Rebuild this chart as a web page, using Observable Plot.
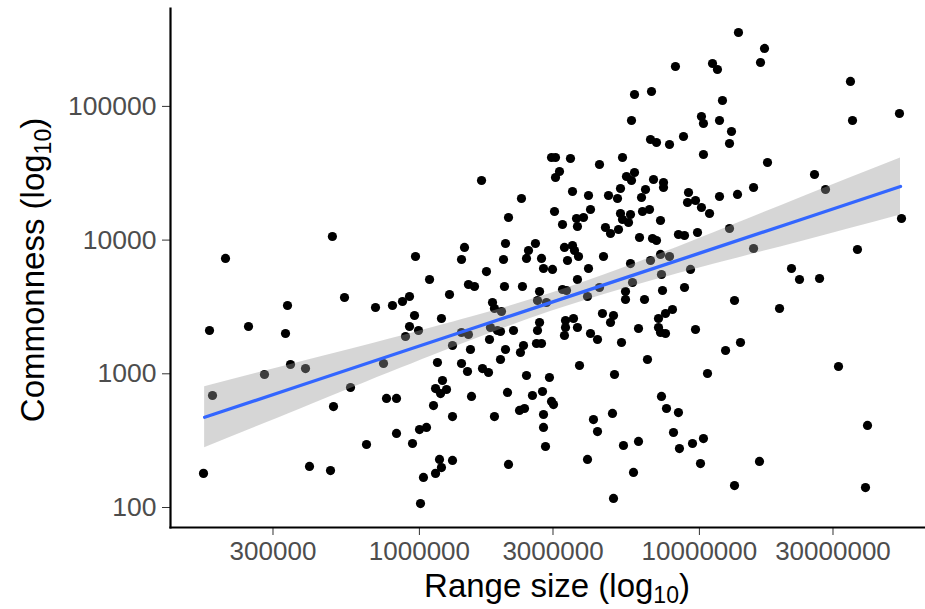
<!DOCTYPE html>
<html><head><meta charset="utf-8">
<script src="https://cdn.jsdelivr.net/npm/d3@7"></script>
<script src="https://cdn.jsdelivr.net/npm/@observablehq/plot@0.6"></script>
<style>body{margin:0;background:#fff;}</style>
</head><body><div id="chart"></div>
<script>
// Range size (x) and commonness (y) of each species
const rangeSize = [
489000,203000,1667000,2315000,2081000,1449000,968500,1414000,2030000,2597000,
2453000,1997000,2413000,2730000,1736000,2775000,8212000,11140000,11600000,5866000,
6745000,12090000,10170000,10340000,11800000,5722000,13020000,12810000,6690000,7028000,
7820000,8774000,10340000,2964000,3063000,3464000,5313000,4397000,3165000,3063000,
5490000,5866000,5722000,6858000,7444000,7444000,6420000,5226000,3522000,4017000,
4735000,5099000,6212000,9143000,11800000,9068000,9685000,10170000,10870000,3038000,
4084000,3640000,3856000,3669000,3244000,5226000,5675000,5313000,5582000,6264000,
6634000,7262000,4619000,4815000,5141000,6112000,6801000,7028000,8418000,8848000,
9845000,12810000,3297000,3522000,3580000,3700000,3380000,4545000,5675000,6690000,
7262000,7820000,9295000,4017000,2988000,13790000,17080000,16530000,34640000,35220000,
51830000,17510000,25770000,28210000,15610000,13680000,52700000,15610000,36690000,21330000,
540100,338000,178000,245300,332500,279700,346400,392000,182400,567400,
493400,405000,481500,169400,1087000,1497000,1573000,2013000,2334000,2686000,
1281000,697000,801400,870100,921800,960500,1824000,1854000,1964000,2641000,
1199000,921800,992600,891900,1414000,1497000,1794000,1900000,1948000,2168000,
2686000,2641000,1780000,1313000,1522000,2030000,2354000,2296000,2619000,2730000,
744400,1160000,1414000,1948000,1485000,1680000,1765000,2413000,1209000,1142000,
1250000,1190000,2064000,2752000,2534000,1535000,763000,828400,1123000,2278000,
2373000,2775000,1854000,1313000,2775000,1001000,1060000,828400,647400,944900,
2821000,1180000,1313000,1199000,1142000,2081000,1034000,1009000,3669000,7321000,
5769000,4397000,3244000,3353000,2844000,3985000,5446000,5446000,7383000,8848000,
6367000,4506000,4934000,4815000,3325000,3551000,3325000,3297000,3669000,4084000,
4326000,5270000,6061000,7143000,7567000,8014000,7143000,7262000,7567000,9685000,
12400000,6525000,3731000,4975000,2914000,10690000,2964000,3013000,7321000,7629000,
8418000,4893000,4185000,4326000,8081000,10340000,9449000,8486000,5356000,6061000,
3985000,5816000,10090000,4934000,13350000,22780000,26860000,13350000,19330000,14020000,
31390000,39850000,16390000,39190000
];
const commonness = [
10640,7290,27900,20470,14760,8810,7540,7160,9430,9430,
8360,7160,7290,7290,5820,6130,198800,209400,188800,122700,
129200,110700,84050,74490,78440,78440,64920,52770,56550,53700,
51880,59550,43680,41480,41480,40770,41480,36770,32590,29380,
29900,32030,27900,28400,26970,24740,23910,24320,23100,21560,
21560,20470,20830,22700,21190,19110,19780,17530,15810,16360,
16930,14510,14760,12640,13080,15810,15540,14260,13540,16360,
16930,14020,12420,11200,12000,10460,10280,9930,11010,10820,
11400,12210,8810,9110,8360,7540,7040,7540,6680,7040,
7810,7540,6030,6130,6030,357000,271200,213000,153600,78440,
88490,38050,30950,23910,24740,21940,14510,8655,8507,6130,
3721,3242,2108,2258,2002,988,1174,1095,688,790,
569,203,189,180,5074,4655,4497,4497,4497,4127,
3919,3132,3242,3473,3786,2730,3414,3079,2924,3533,
2592,2258,2108,1901,2037,1967,2220,2108,2072,2108,
2419,2108,1805,1628,1520,1520,1628,1443,1685,1685,
1194,1215,1194,1279,1040,1095,1023,971,891,776,
763,712,725,737,688,677,654,654,579,532,
550,496,479,479,397,383,397,358,296,301,
286,229,225,199,180,210,168,107,5074,5529,
4818,4421,4271,4198,3414,3786,4127,3594,4198,4421,
3594,2825,2730,2419,2504,2592,2220,1934,2220,2002,
1805,1715,2182,2592,2825,3026,2220,2037,2002,2145,
1494,1279,1154,988,938,1005,621,589,677,550,
513,505,455,370,364,328,301,276,291,312,
229,183,213,117,146,5074,5162,3533,3079,1715,
1134,411,221,141
];

// Linear fit (log-log) and its confidence band
const fitRange = [171000, 376000, 856000, 1653000, 2940000, 5226000, 10090000, 22970000, 52270000];
const fitValue = [473, 817, 1448, 2286, 3408, 5083, 8023, 14210, 25170];
const fitLower = [280, 546, 1098, 1885, 2919, 4256, 6218, 9728, 15410];
const fitUpper = [799, 1226, 1911, 2773, 3980, 6069, 10350, 20760, 41130];

const xTicks = [300000, 1000000, 3000000, 10000000, 30000000];
const yTicks = [100, 1000, 10000, 100000];

const points = rangeSize.map((x, i) => ({x, y: commonness[i]}));
const fit = fitRange.map((x, i) => ({x, y: fitValue[i], lo: fitLower[i], hi: fitUpper[i]}));

const font = "'Liberation Sans', Arial, sans-serif";
const chart = Plot.plot({
  width: 925,
  height: 609,
  marginLeft: 170,
  marginRight: 0,
  marginTop: 8,
  marginBottom: 82,
  style: {fontFamily: font, background: "white", overflow: "visible"},
  x: {type: "log", domain: [129140, 64200000]},
  y: {type: "log", domain: [70.87, 539700]},
  marks: [
    Plot.dot(points, {x: "x", y: "y", r: 4.6, fill: "black", stroke: "none"}),
    Plot.areaY(fit, {x: "x", y1: "lo", y2: "hi", fill: "#999999", fillOpacity: 0.4, curve: "natural"}),
    Plot.line(fit, {x: "x", y: "y", stroke: "#3366FF", strokeWidth: 3.3}),
    Plot.axisX(xTicks, {tickSize: 8, tickPadding: 6, tickFormat: d => String(d), fontSize: 26, label: null, stroke: "#333333"}),
    Plot.axisY(yTicks, {tickSize: 8, tickPadding: 6, tickFormat: d => String(d), fontSize: 26.5, label: null, stroke: "#333333"}),
    Plot.frame({anchor: "left", stroke: "black", strokeWidth: 2.2}),
    Plot.frame({anchor: "bottom", stroke: "black", strokeWidth: 2.2})
  ]
});

const svg = d3.select(chart);
svg.selectAll('g[aria-label$="tick label"]').attr("fill", "#4D4D4D");

const xt = svg.append("text")
  .attr("x", 557).attr("y", 597)
  .attr("text-anchor", "middle")
  .attr("font-family", font).attr("font-size", 33).attr("fill", "black");
xt.append("tspan").text("Range size (log");
xt.append("tspan").attr("font-size", 23).attr("dy", 6).text("10");
xt.append("tspan").attr("dy", -6).text(")");

const yt = svg.append("text")
  .attr("transform", "translate(44,270) rotate(-90)")
  .attr("text-anchor", "middle")
  .attr("font-family", font).attr("font-size", 33).attr("fill", "black");
yt.append("tspan").text("Commonness (log");
yt.append("tspan").attr("font-size", 23).attr("dy", 7).text("10");
yt.append("tspan").attr("dy", -7).text(")");

document.getElementById("chart").appendChild(chart);
</script>
</body></html>
